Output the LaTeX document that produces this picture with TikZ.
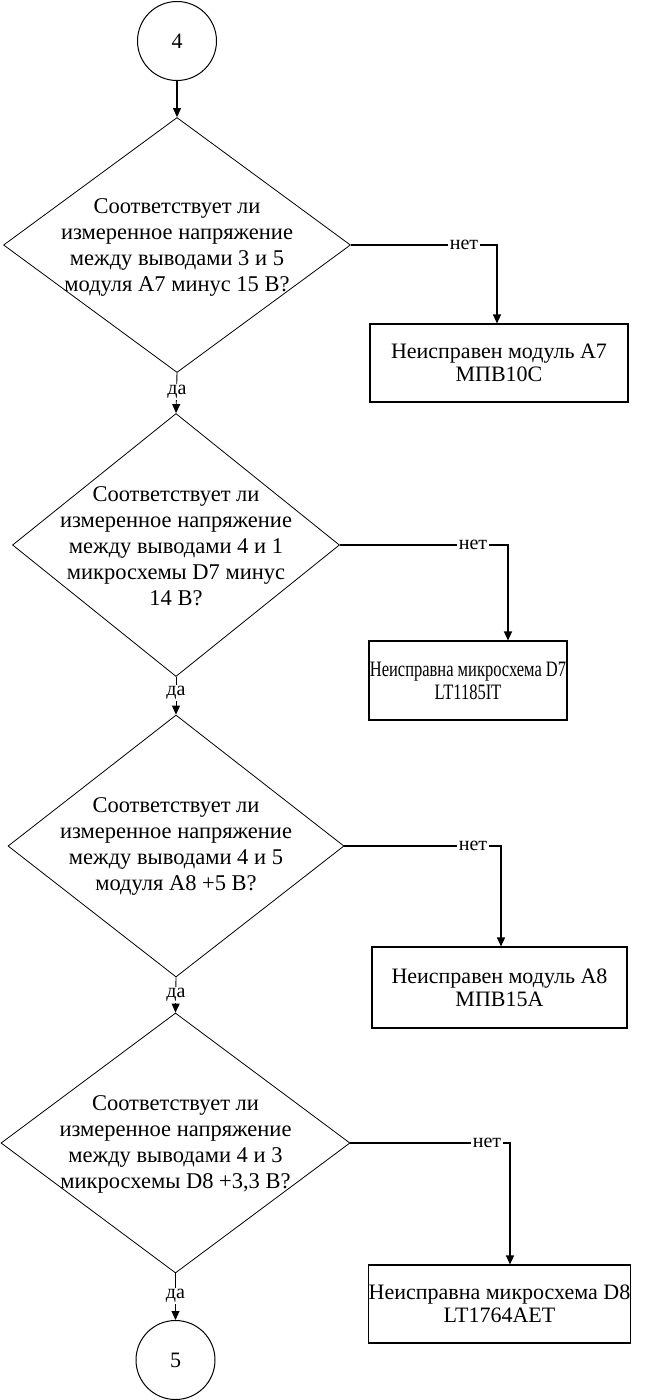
\documentclass[tikz,border=0pt]{standalone}
\usepackage{fontspec}
\setmainfont{Liberation Serif}
\usetikzlibrary{shapes.geometric,arrows.meta}
\begin{document}
\begin{tikzpicture}[x=1pt,y=-1pt,
  dec/.style={diamond,draw,line width=0.8pt,inner sep=0pt},
  qtext/.style={align=center,inner sep=0pt,font=\fontsize{22.5}{26}\selectfont},
  res/.style={draw,line width=1.1pt,align=center,inner sep=0pt,font=\fontsize{22}{23}\selectfont},
  conn/.style={circle,draw,line width=1pt,minimum size=79pt,inner sep=0pt,font=\fontsize{22}{22}\selectfont},
  arr/.style={line width=1.2pt,-{Triangle[length=9pt,width=8pt]}},
  thinarr/.style={line width=0.9pt,-{Triangle[length=9pt,width=8pt]}},
  lbl/.style={fill=white,inner sep=1.5pt,font=\fontsize{20}{20}\selectfont}]
\useasboundingbox (0,0) rectangle (649,1400);

% start connector
\node[conn] (c4) at (177,41) {4};

% decisions
\node[dec,minimum width=347pt,minimum height=255pt] (d1) at (177,245) {};
\node[qtext] (t1) at (177,247) {Соответствует ли\\измеренное напряжение\\между выводами 3 и 5\\модуля А7 минус 15 В?};

\node[dec,minimum width=327pt,minimum height=263pt] (d2) at (176,545) {};
\node[qtext] (t2) at (176,546) {Соответствует ли\\измеренное напряжение\\между выводами 4 и 1\\микросхемы D7 минус\\14 В?};

\node[dec,minimum width=336pt,minimum height=262pt] (d3) at (176,846) {};
\node[qtext] (t3) at (176,846) {Соответствует ли\\измеренное напряжение\\между выводами 4 и 5\\модуля А8 +5 В?};

\node[dec,minimum width=349pt,minimum height=260pt] (d4) at (175.5,1143) {};
\node[qtext] (t4) at (175.5,1144) {Соответствует ли\\измеренное напряжение\\между выводами 4 и 3\\микросхемы D8 +3,3 В?};

% end connector
\node[conn] (c5) at (175.5,1360) {5};

% results
\node[res,minimum width=258pt,minimum height=78pt] (b1) at (499,363) {Неисправен модуль А7\\МПВ10С};
\node[res,minimum width=198pt,minimum height=79pt] (b2) at (468,680.5) {\scalebox{0.75}[1]{Неисправна микросхема D7}\\\scalebox{0.75}[1]{LT1185IT}};
\node[res,minimum width=255pt,minimum height=81pt] (b3) at (499.5,987.5) {Неисправен модуль А8\\МПВ15А};
\node[res,minimum width=261pt,minimum height=78pt] (b4) at (499.5,1304) {Неисправна микросхема D8\\LT1764AET};

% corners of the "no" branches
\coordinate (k1) at (497,245);
\coordinate (k2) at (508,545);
\coordinate (k3) at (501,846);
\coordinate (k4) at (510,1143);

% main flow
\draw[arr] (c4.south) -- (d1.north);
\draw[thinarr] (d1.south) -- (d2.north);
\draw[thinarr] (d2.south) -- (d3.north);
\draw[thinarr] (d3.south) -- (d4.north);
\draw[thinarr] (d4.south) -- (c5.north);

\node[lbl] (y1) at (177,392) {да};
\node[lbl] (y2) at (176,693) {да};
\node[lbl] (y3) at (176,995) {да};
\node[lbl] (y4) at (175.5,1296) {да};

% no branches
\draw[arr] (d1.east) -- (k1) -- (k1 |- b1.north);
\draw[arr] (d2.east) -- (k2) -- (k2 |- b2.north);
\draw[arr] (d3.east) -- (k3) -- (k3 |- b3.north);
\draw[arr] (d4.east) -- (k4) -- (k4 |- b4.north);

\node[lbl] (n1) at (464,245) {нет};
\node[lbl] (n2) at (473,545) {нет};
\node[lbl] (n3) at (473,846) {нет};
\node[lbl] (n4) at (487,1143) {нет};
\end{tikzpicture}
\end{document}
